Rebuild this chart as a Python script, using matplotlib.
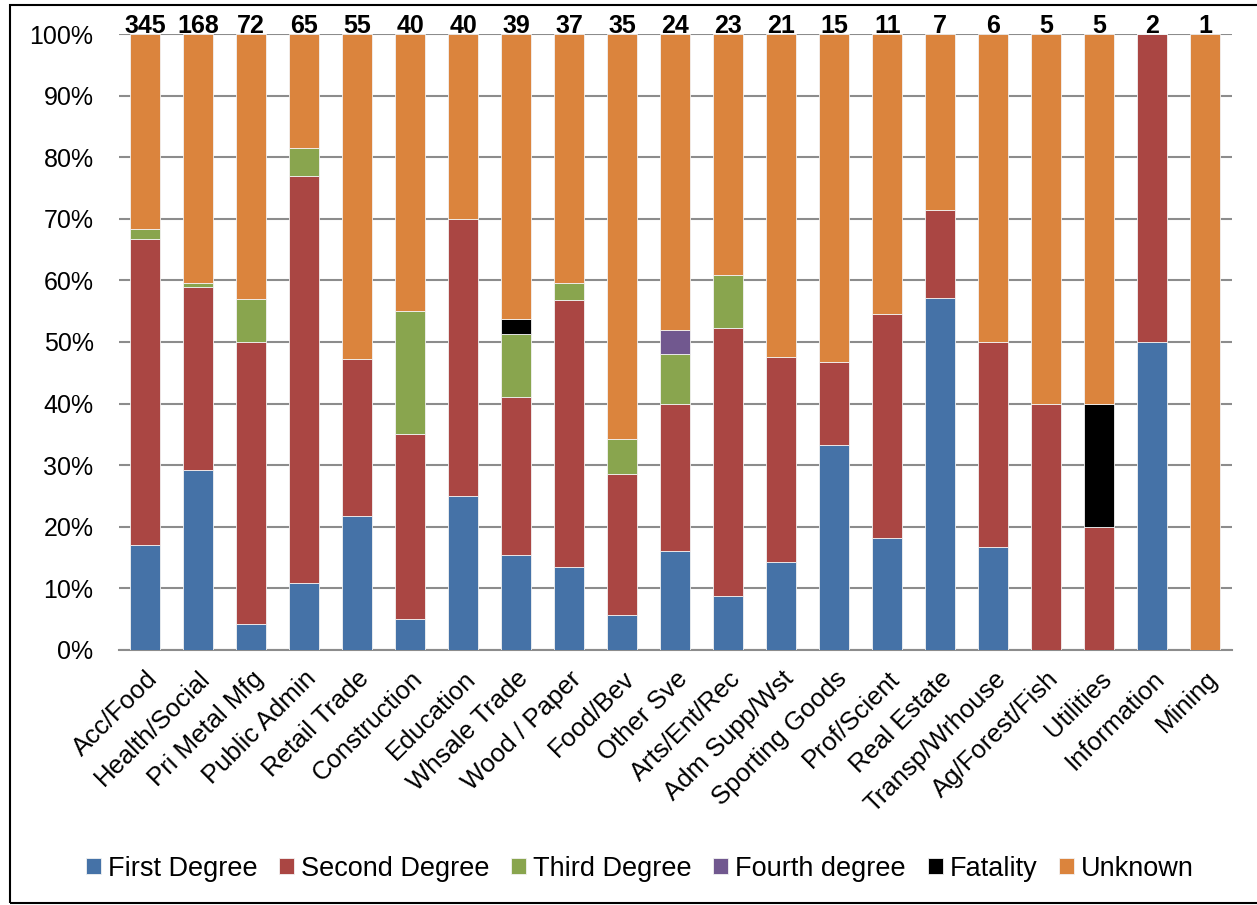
import numpy as np
import matplotlib
matplotlib.use("Agg")
import matplotlib.pyplot as plt
from matplotlib.patches import Rectangle

plt.rcParams['font.family'] = ['Liberation Sans', 'DejaVu Sans']

industries = ["Acc/Food", "Health/Social", "Pri Metal Mfg", "Public Admin", "Retail Trade",
              "Construction", "Education", "Whsale Trade", "Wood / Paper", "Food/Bev",
              "Other Sve", "Arts/Ent/Rec", "Adm Supp/Wst", "Sporting Goods", "Prof/Scient",
              "Real Estate", "Transp/Wrhouse", "Ag/Forest/Fish", "Utilities", "Information",
              "Mining"]
totals = [345, 168, 72, 65, 55, 40, 40, 39, 37, 35, 24, 23, 21, 15, 11, 7, 6, 5, 5, 2, 1]

# share of each burn class per industry (%)
first_degree  = [17.1, 29.2, 4.2, 10.8, 21.8, 5.0, 25.0, 15.4, 13.5, 5.7,
                 16.0, 8.7, 14.3, 33.3, 18.2, 57.1, 16.7, 0.0, 0.0, 50.0, 0.0]
second_degree = [49.6, 29.7, 45.8, 66.1, 25.5, 30.0, 45.0, 25.6, 43.3, 22.9,
                 24.0, 43.5, 33.3, 13.4, 36.3, 14.3, 33.3, 40.0, 20.0, 50.0, 0.0]
third_degree  = [1.7, 0.6, 6.9, 4.6, 0.0, 20.0, 0.0, 10.3, 2.7, 5.7,
                 8.0, 8.7, 0.0, 0.0, 0.0, 0.0, 0.0, 0.0, 0.0, 0.0, 0.0]
fourth_degree = [0.0, 0.0, 0.0, 0.0, 0.0, 0.0, 0.0, 0.0, 0.0, 0.0,
                 4.0, 0.0, 0.0, 0.0, 0.0, 0.0, 0.0, 0.0, 0.0, 0.0, 0.0]
fatality      = [0.0, 0.0, 0.0, 0.0, 0.0, 0.0, 0.0, 2.5, 0.0, 0.0,
                 0.0, 0.0, 0.0, 0.0, 0.0, 0.0, 0.0, 0.0, 20.0, 0.0, 0.0]

series = [("First Degree", first_degree, "#4572A7"),
          ("Second Degree", second_degree, "#AA4643"),
          ("Third Degree", third_degree, "#89A54E"),
          ("Fourth degree", fourth_degree, "#71588F"),
          ("Fatality", fatality, "#000000")]

known = np.sum([np.array(s[1]) for s in series], axis=0)
unknown = 100 - known
series.append(("Unknown", list(unknown), "#DB843D"))

fig = plt.figure(figsize=(12.57, 9.05), dpi=100)
ax = fig.add_axes([0.0943, 0.2818, 0.8857, 0.6806])

x = np.arange(len(industries))
bottom = np.zeros(len(industries))
for name, vals, col in series:
    vals = np.array(vals)
    ax.bar(x, vals, 0.57, bottom=bottom, color=col, edgecolor="#f2f2f2",
           linewidth=0.6, label=name, zorder=3)
    bottom += vals

for i, n in enumerate(totals):
    ax.text(i, 100.2, str(n), ha='center', va='baseline', fontsize=18,
            fontweight='bold', zorder=5)

ax.set_xlim(-0.5, len(industries) - 0.5)
ax.set_ylim(0, 100)
ax.set_yticks(np.arange(0, 101, 10))
ax.set_yticklabels([f"{v}%" for v in range(0, 101, 10)], fontsize=18)
ax.yaxis.grid(True, color="#8c8c8c", linewidth=1.5, zorder=0)
ax.set_xticks(x)
ax.set_xticklabels(industries, rotation=45, ha='right', rotation_mode='anchor',
                   fontsize=18.5)
ax.tick_params(axis='both', length=0)
ax.tick_params(axis='y', pad=18)
ax.tick_params(axis='x', pad=12)
for s in ['top', 'right', 'left']:
    ax.spines[s].set_visible(False)
ax.spines['bottom'].set_color("#8c8c8c")
ax.spines['bottom'].set_linewidth(1.5)

ax.legend(loc='center', bbox_to_anchor=(0.509, 0.040), bbox_transform=fig.transFigure,
          ncol=6, frameon=False, fontsize=19.5, handlelength=0.55, handleheight=0.55,
          handletextpad=0.26, columnspacing=0.8)

fig.patches.append(Rectangle((10 / 1257, 2 / 905), 1.0, 1 - 7 / 905,
                             transform=fig.transFigure, fill=False,
                             edgecolor='black', linewidth=1.5))

fig.savefig("out.png", dpi=100)
